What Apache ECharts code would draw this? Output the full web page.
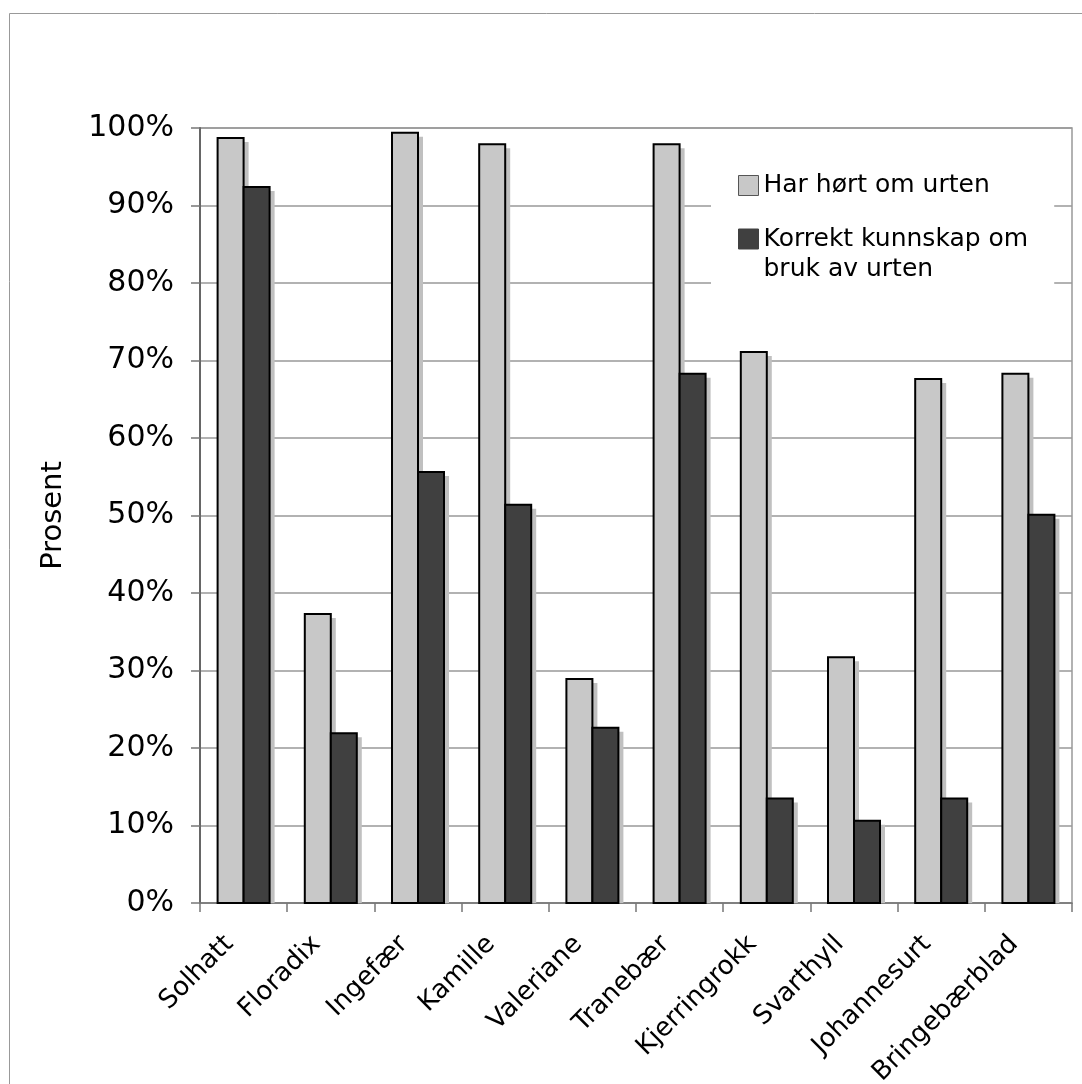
<!DOCTYPE html>
<html>
<head>
<meta charset="utf-8">
<script src="https://cdn.jsdelivr.net/npm/echarts@6/dist/echarts.min.js"></script>
<style>
html,body{margin:0;padding:0;background:#fff;}
#chart{width:1082px;height:1084px;}
</style>
</head>
<body>
<div id="chart"></div>
<script>
const categories = ['Solhatt','Floradix','Ingefær','Kamille','Valeriane','Tranebær','Kjerringrokk','Svarthyll','Johannesurt','Bringebærblad'];
const seriesNames = ['Har hørt om urten','Korrekt kunnskap om bruk av urten'];
const heardValues = [98.7, 37.3, 99.4, 97.9, 28.9, 97.9, 71.1, 31.7, 67.6, 68.3];
const correctValues = [92.4, 21.9, 55.6, 51.4, 22.6, 68.3, 13.5, 10.6, 13.5, 50.1];
const yTicks = {min: 0, max: 100, interval: 10};
const yAxisTitle = 'Prosent';

const FONT = 'DejaVu Sans';
const BAR_W = 26;
const colors = ['#c8c8c8', '#404040'];
const chart = echarts.init(document.getElementById('chart'), null, {renderer: 'canvas'});

function makeRender(side, color) {
  return function (params, api) {
    const i = api.value(0), v = api.value(1);
    const top = api.coord([i, v]);
    const base = api.coord([i, 0]);
    const x = top[0] + (side === 0 ? -BAR_W : 0);
    const y = top[1];
    const h = base[1] - top[1];
    return {
      type: 'group',
      children: [
        {type: 'rect', shape: {x: x + 5, y: y + 4, width: BAR_W, height: Math.max(h - 4, 0)}, style: {fill: '#c0c0c0'}},
        {type: 'rect', shape: {x: x, y: y, width: BAR_W, height: h}, style: {fill: color, stroke: '#000', lineWidth: 2}}
      ]
    };
  };
}

chart.setOption({
  animation: false,
  backgroundColor: '#fff',
  textStyle: {fontFamily: FONT, color: '#000'},
  graphic: [{
    type: 'rect',
    left: 7, top: 11,
    shape: {width: 1200, height: 1200},
    style: {fill: 'none', stroke: '#999', lineWidth: 1},
    silent: true,
    z: -10
  }],
  grid: {
    left: 200, right: 10, top: 128, bottom: 181,
    outerBoundsMode: 'none',
    containLabel: false,
    show: true, borderColor: '#999', borderWidth: 1.5
  },
  legend: {
    orient: 'vertical',
    left: 711, top: 153,
    backgroundColor: '#fff',
    padding: [20, 26, 15, 27],
    itemWidth: 20, itemHeight: 20,
    itemGap: -4,
    icon: 'rect',
    selectedMode: false,
    z: 10,
    textStyle: {fontFamily: FONT, fontSize: 25, color: '#000'},
    data: [
      {name: seriesNames[0], textStyle: {lineHeight: 20}, itemStyle: {color: colors[0], borderColor: '#555', borderWidth: 1}},
      {name: seriesNames[1], textStyle: {lineHeight: 30}, itemStyle: {color: colors[1], borderColor: '#404040', borderWidth: 1}}
    ],
    formatter: function (name) {
      return name === seriesNames[1] ? '\nKorrekt kunnskap om\nbruk av urten' : name;
    }
  },
  xAxis: {
    type: 'category',
    data: categories,
    axisLine: {lineStyle: {color: '#777', width: 1.5}},
    axisTick: {show: true, length: 9, lineStyle: {color: '#777', width: 1.5}},
    axisLabel: {rotate: 45, margin: 23, padding: [0, 20, 0, 0], fontSize: 26, fontFamily: FONT, color: '#000', interval: 0}
  },
  yAxis: {
    type: 'value',
    min: yTicks.min, max: yTicks.max, interval: yTicks.interval,
    name: yAxisTitle,
    nameLocation: 'middle',
    nameRotate: 90,
    nameGap: 132,
    nameTextStyle: {fontSize: 29, fontFamily: FONT, color: '#000'},
    axisLine: {show: true, lineStyle: {color: '#666', width: 2}},
    axisTick: {show: true, length: 9, lineStyle: {color: '#777', width: 1.5}},
    axisLabel: {formatter: '{value}%', margin: 26, fontSize: 30, fontFamily: FONT, color: '#000'},
    splitLine: {show: true, lineStyle: {color: '#999', width: 1.5}}
  },
  series: [
    {
      name: seriesNames[0], type: 'custom',
      data: heardValues.map((v, i) => [i, v]),
      encode: {x: 0, y: 1},
      itemStyle: {color: colors[0]},
      renderItem: makeRender(0, colors[0])
    },
    {
      name: seriesNames[1], type: 'custom',
      data: correctValues.map((v, i) => [i, v]),
      encode: {x: 0, y: 1},
      itemStyle: {color: colors[1]},
      renderItem: makeRender(1, colors[1])
    }
  ]
});
</script>
</body>
</html>
